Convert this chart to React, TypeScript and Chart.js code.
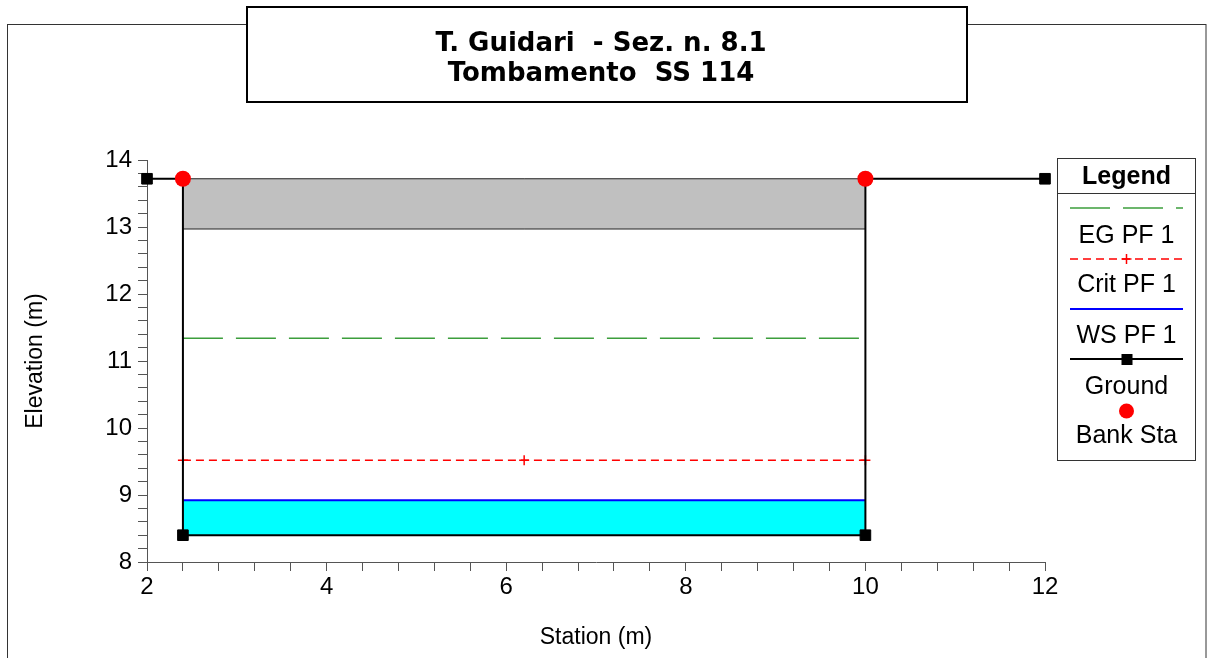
import React, { useEffect, useRef } from 'react';
import { Chart, registerables } from 'chart.js';

Chart.register(...registerables);

// ---------- data ----------
const titleLines = ['T. Guidari  - Sez. n. 8.1', 'Tombamento  SS 114'];
const xAxisTitle = 'Station (m)';
const yAxisTitle = 'Elevation (m)';

const xMin = 2;
const xMax = 12;
const xStep = 0.4;
const xLabelEvery = 2;
const yMin = 8;
const yMax = 14;
const yStep = 0.2;
const yLabelEvery = 1;

const groundX = [2, 2.4, 2.4, 10, 10, 12];
const groundY = [13.72, 13.72, 8.4, 8.4, 13.72, 13.72];

const bankX = [2.4, 10];
const bankY = [13.72, 13.72];

const lidX = [2.4, 10];
const lidTopY = [13.72, 13.72];
const lidBottomY = [12.97, 12.97];

const wsX = [2.4, 10];
const wsY = [8.92, 8.92];
const wsFillBase = 8.4;

const critX = [2.4, 6.2, 10];
const critY = [9.52, 9.52, 9.52];

const egX = [2.4, 10];
const egY = [11.34, 11.34];

const legendTitle = 'Legend';
const legendNames = ['EG PF 1', 'Crit PF 1', 'WS PF 1', 'Ground', 'Bank Sta'];

// ---------- styles ----------
const FONT = "'Liberation Sans', Arial, sans-serif";
const EG_COLOR = '#3c9e3c';
const CRIT_COLOR = '#ff0000';
const WS_COLOR = '#0000ff';
const WATER_COLOR = '#00ffff';
const LID_COLOR = '#c0c0c0';
const BANK_COLOR = '#ff0000';
const EG_DASH = [40, 13];
const CRIT_DASH = [8, 5];

const pts = (xs: number[], ys: number[]) => xs.map((x, i) => ({ x, y: ys[i] }));

const isMultiple = (v: number, m: number) => Math.abs(v / m - Math.round(v / m)) < 1e-6;

const framePlugin = {
  id: 'frameTitle',
  beforeDraw(chart: any) {
    const ctx = chart.ctx;
    ctx.save();
    ctx.fillStyle = '#fff';
    ctx.fillRect(0, 0, chart.width, chart.height);
    // outer frame
    ctx.strokeStyle = '#333';
    ctx.lineWidth = 1;
    ctx.strokeRect(7.5, 24.5, 1198.5, 700);
    // title box
    ctx.fillStyle = '#fff';
    ctx.fillRect(247, 7, 720, 95);
    ctx.strokeStyle = '#000';
    ctx.lineWidth = 2;
    ctx.strokeRect(247, 7, 720, 95);
    ctx.fillStyle = '#000';
    ctx.font = "bold 26px 'DejaVu Sans', sans-serif";
    ctx.textAlign = 'center';
    ctx.textBaseline = 'alphabetic';
    ctx.fillText(titleLines[0], 601, 51);
    ctx.fillText(titleLines[1], 601, 81);
    ctx.restore();
  },
};

const legendPlugin = {
  id: 'customLegend',
  afterDraw(chart: any) {
    const ctx = chart.ctx;
    const L = 1057.5, T = 158.5, W = 138, H = 302;
    const cx = L + W / 2;
    const x1 = 1070, x2 = 1183;
    ctx.save();
    ctx.fillStyle = '#fff';
    ctx.fillRect(L, T, W, H);
    ctx.strokeStyle = '#333';
    ctx.lineWidth = 1;
    ctx.strokeRect(L, T, W, H);
    ctx.beginPath();
    ctx.moveTo(L, 193.5);
    ctx.lineTo(L + W, 193.5);
    ctx.stroke();

    ctx.fillStyle = '#000';
    ctx.textAlign = 'center';
    ctx.textBaseline = 'alphabetic';
    ctx.font = `bold 25px ${FONT}`;
    ctx.fillText(legendTitle, cx, 184);

    // EG
    ctx.strokeStyle = EG_COLOR;
    ctx.lineWidth = 1.5;
    ctx.setLineDash(EG_DASH);
    ctx.beginPath();
    ctx.moveTo(x1, 208);
    ctx.lineTo(x2, 208);
    ctx.stroke();
    // Crit
    ctx.strokeStyle = CRIT_COLOR;
    ctx.lineWidth = 1.3;
    ctx.setLineDash(CRIT_DASH);
    ctx.beginPath();
    ctx.moveTo(x1, 259);
    ctx.lineTo(x2, 259);
    ctx.stroke();
    ctx.setLineDash([]);
    ctx.lineWidth = 1.5;
    ctx.beginPath();
    ctx.moveTo(cx, 254);
    ctx.lineTo(cx, 264);
    ctx.moveTo(cx - 5, 259);
    ctx.lineTo(cx + 5, 259);
    ctx.stroke();
    // WS
    ctx.strokeStyle = WS_COLOR;
    ctx.lineWidth = 2;
    ctx.beginPath();
    ctx.moveTo(x1, 309);
    ctx.lineTo(x2, 309);
    ctx.stroke();
    // Ground
    ctx.strokeStyle = '#000';
    ctx.lineWidth = 2;
    ctx.beginPath();
    ctx.moveTo(x1, 359);
    ctx.lineTo(x2, 359);
    ctx.stroke();
    ctx.fillStyle = '#000';
    ctx.fillRect(cx - 5, 354, 11, 11);
    // Bank
    ctx.fillStyle = BANK_COLOR;
    ctx.beginPath();
    ctx.arc(cx, 411, 7.5, 0, Math.PI * 2);
    ctx.fill();

    ctx.fillStyle = '#000';
    ctx.font = `25px ${FONT}`;
    const baselines = [243, 292, 343, 394, 443];
    legendNames.forEach((n, i) => ctx.fillText(n, cx, baselines[i]));
    ctx.restore();
  },
};

export default function App() {
  const ref = useRef<HTMLCanvasElement>(null);

  useEffect(() => {
    document.body.style.margin = '0';
    const canvas = ref.current!;
    const lineBase = { pointRadius: 0, clip: false as any, tension: 0 };
    const chart = new Chart(canvas, {
      type: 'line',
      data: {
        datasets: [
          {
            label: 'Bank Sta',
            data: pts(bankX, bankY),
            showLine: false,
            pointStyle: 'circle',
            pointRadius: 8,
            pointBackgroundColor: BANK_COLOR,
            pointBorderColor: BANK_COLOR,
            pointBorderWidth: 0,
            clip: false as any,
          },
          {
            label: 'Ground',
            data: pts(groundX, groundY),
            borderColor: '#000',
            borderWidth: 2,
            pointStyle: 'rect',
            pointRadius: 7.5,
            pointBackgroundColor: '#000',
            pointBorderColor: '#000',
            pointBorderWidth: 1,
            clip: false as any,
            tension: 0,
          },
          {
            ...lineBase,
            label: 'Crit PF 1',
            data: pts(critX, critY),
            borderColor: CRIT_COLOR,
            borderWidth: 1.5,
            borderDash: CRIT_DASH,
            pointStyle: 'cross',
            pointRadius: 5,
            pointBorderColor: CRIT_COLOR,
            pointBorderWidth: 1.5,
          },
          {
            ...lineBase,
            label: 'EG PF 1',
            data: pts(egX, egY),
            borderColor: EG_COLOR,
            borderWidth: 1.5,
            borderDash: EG_DASH,
          },
          {
            ...lineBase,
            label: 'WS PF 1',
            data: pts(wsX, wsY),
            borderColor: WS_COLOR,
            borderWidth: 2,
            backgroundColor: WATER_COLOR,
            fill: { value: wsFillBase } as any,
          },
          {
            ...lineBase,
            label: 'Lid top',
            data: pts(lidX, lidTopY),
            borderColor: '#222',
            borderWidth: 1,
          },
          {
            ...lineBase,
            label: 'Lid bottom',
            data: pts(lidX, lidBottomY),
            borderColor: '#222',
            borderWidth: 1,
            backgroundColor: LID_COLOR,
            fill: { value: lidTopY[0] } as any,
          },
        ],
      },
      options: {
        responsive: false,
        animation: false,
        events: [],
        layout: { padding: { top: 160, right: 162, left: 0, bottom: 0 } },
        plugins: {
          legend: { display: false },
          tooltip: { enabled: false },
          title: { display: false },
        },
        scales: {
          x: {
            type: 'linear',
            min: xMin,
            max: xMax,
            afterFit: (s: any) => {
              s.height = 96;
            },
            border: { display: true, color: '#555', width: 1 },
            grid: { drawOnChartArea: false, drawTicks: true, tickLength: 9, color: '#555' },
            ticks: {
              stepSize: xStep,
              autoSkip: false,
              maxRotation: 0,
              padding: 2,
              color: '#000',
              font: { family: FONT, size: 24 },
              callback: (v: any) => (isMultiple(Number(v), xLabelEvery) ? String(Math.round(Number(v))) : ''),
            },
            title: {
              display: true,
              text: xAxisTitle,
              color: '#000',
              font: { family: FONT, size: 23 },
              padding: { top: 0, bottom: 7 },
            },
          },
          y: {
            type: 'linear',
            min: yMin,
            max: yMax,
            afterFit: (s: any) => {
              s.width = 147;
            },
            border: { display: true, color: '#555', width: 1 },
            grid: { drawOnChartArea: false, drawTicks: true, tickLength: 9, color: '#555' },
            ticks: {
              stepSize: yStep,
              autoSkip: false,
              padding: 6,
              color: '#000',
              font: { family: FONT, size: 24 },
              callback: (v: any) => (isMultiple(Number(v), yLabelEvery) ? String(Math.round(Number(v))) : ''),
            },
            title: {
              display: true,
              text: yAxisTitle,
              color: '#000',
              font: { family: FONT, size: 23 },
              padding: { top: 22, bottom: 0 },
            },
          },
        },
      },
      plugins: [framePlugin, legendPlugin],
    });
    return () => chart.destroy();
  }, []);

  return (
    <div style={{ width: 1207, height: 658, overflow: 'hidden' }}>
      <canvas ref={ref} width={1207} height={658} style={{ display: 'block' }} />
    </div>
  );
}
